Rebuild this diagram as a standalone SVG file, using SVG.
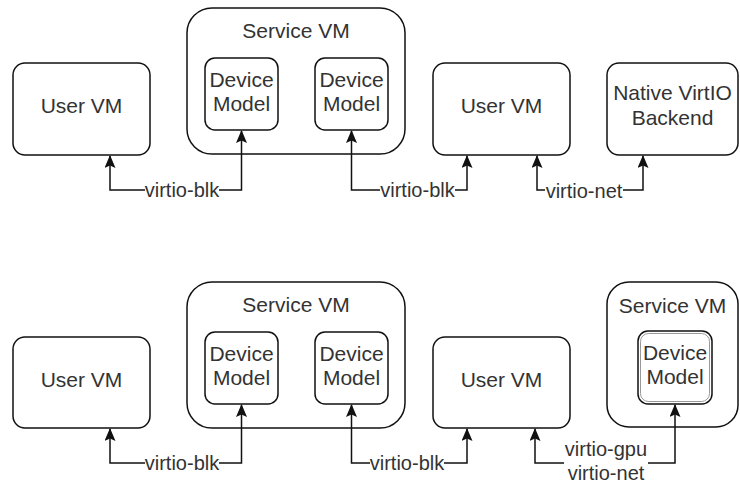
<svg xmlns="http://www.w3.org/2000/svg" width="740" height="483" viewBox="0 0 740 483">
<style>
.box{fill:#fff;stroke:#111;stroke-width:1.5}
.t{font-family:"Liberation Sans",Arial,sans-serif;font-size:21px;fill:#333;text-anchor:middle}
.l{font-family:"Liberation Sans",Arial,sans-serif;font-size:20px;fill:#333;text-anchor:middle}
.c{fill:none;stroke:#111;stroke-width:1.5}
</style>
<defs>
<marker id="ah" markerWidth="13" markerHeight="11" refX="12" refY="5.5" orient="auto" markerUnits="userSpaceOnUse" viewBox="0 0 13 11">
<path d="M0 0 L13 5.5 L0 11 L2.5 5.5 Z" fill="#111"/>
</marker>
</defs>
<rect width="740" height="483" fill="#fff"/>
<g id="user-vm-1"><rect class="box" x="13" y="63" width="137" height="92" rx="12"/><text class="t" x="81.5" y="113">User VM</text></g>
<g id="service-vm-1"><rect class="box" x="187" y="8" width="218" height="146" rx="25"/><text class="t" x="296" y="38">Service VM</text></g>
<g id="dm-1"><rect class="box" x="205" y="58" width="73" height="72" rx="10"/><text class="t" x="241.5" y="87">Device</text><text class="t" x="241.5" y="111">Model</text></g>
<g id="dm-2"><rect class="box" x="315" y="58" width="73" height="72" rx="10"/><text class="t" x="351.5" y="87">Device</text><text class="t" x="351.5" y="111">Model</text></g>
<g id="user-vm-2"><rect class="box" x="433" y="63" width="137" height="92" rx="12"/><text class="t" x="501.5" y="113">User VM</text></g>
<g id="native-backend"><rect class="box" x="607" y="63" width="131" height="92" rx="12"/><text class="t" x="672.5" y="100">Native VirtIO</text><text class="t" x="672.5" y="125">Backend</text></g>

<g id="user-vm-3"><rect class="box" x="13" y="337" width="137" height="91" rx="12"/><text class="t" x="81.5" y="387">User VM</text></g>
<g id="service-vm-3"><rect class="box" x="187" y="282" width="218" height="146" rx="25"/><text class="t" x="296" y="312">Service VM</text></g>
<g id="dm-3"><rect class="box" x="205" y="332" width="73" height="72" rx="10"/><text class="t" x="241.5" y="361">Device</text><text class="t" x="241.5" y="385">Model</text></g>
<g id="dm-4"><rect class="box" x="315" y="332" width="73" height="72" rx="10"/><text class="t" x="351.5" y="361">Device</text><text class="t" x="351.5" y="385">Model</text></g>
<g id="user-vm-4"><rect class="box" x="433" y="337" width="137" height="91" rx="12"/><text class="t" x="501.5" y="387">User VM</text></g>
<g id="service-vm-5"><rect class="box" x="607" y="282" width="131" height="145" rx="22"/><text class="t" x="672.5" y="313">Service VM</text></g>
<g id="dm-5"><rect class="box" x="638" y="331" width="74" height="73" rx="10"/><rect x="640.5" y="333.5" width="69" height="68" rx="8" fill="none" stroke="#999" stroke-width="1"/><text class="t" x="675" y="360">Device</text><text class="t" x="675" y="384">Model</text></g>

<g id="connectors">
<path class="c" d="M145 190 H110 V156" marker-end="url(#ah)"/>
<path class="c" d="M219 190 H241.5 V131" marker-end="url(#ah)"/>
<text class="l" x="182" y="197">virtio-blk</text>
<path class="c" d="M380 190 H351.5 V131" marker-end="url(#ah)"/>
<path class="c" d="M455 190 H467 V156" marker-end="url(#ah)"/>
<text class="l" x="417.5" y="197">virtio-blk</text>
<path class="c" d="M545 190 H537 V156" marker-end="url(#ah)"/>
<path class="c" d="M623 190 H643 V156" marker-end="url(#ah)"/>
<text class="l" x="584" y="198">virtio-net</text>

<path class="c" d="M145 463 H110 V429" marker-end="url(#ah)"/>
<path class="c" d="M219 463 H241.5 V405" marker-end="url(#ah)"/>
<text class="l" x="182" y="470">virtio-blk</text>
<path class="c" d="M370 463 H351.5 V405" marker-end="url(#ah)"/>
<path class="c" d="M444 463 H467 V429" marker-end="url(#ah)"/>
<text class="l" x="407" y="470">virtio-blk</text>
<path class="c" d="M564 463 H535 V429" marker-end="url(#ah)"/>
<path class="c" d="M648 463 H675 V405" marker-end="url(#ah)"/>
<text class="l" x="606" y="456">virtio-gpu</text>
<text class="l" x="606" y="480">virtio-net</text>
</g>
</svg>
